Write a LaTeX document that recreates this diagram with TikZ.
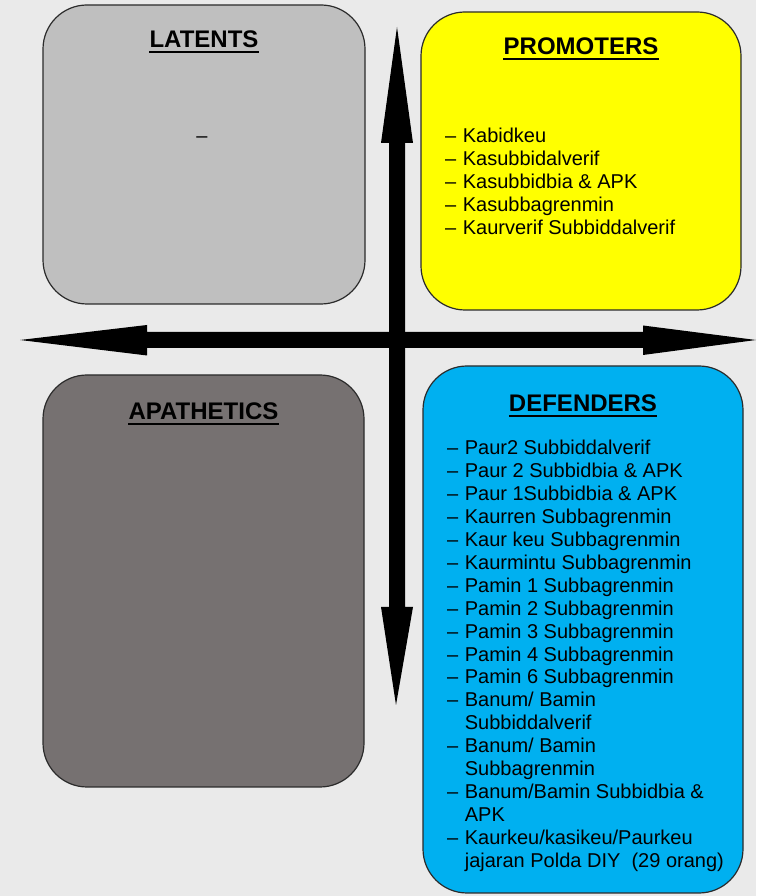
\documentclass[tikz,border=0pt]{standalone}
\usepackage{fontspec}
\setmainfont{Liberation Sans}
\definecolor{bgc}{HTML}{EAEAEA}
\definecolor{latc}{HTML}{BFBFBF}
\definecolor{proc}{HTML}{FFFF00}
\definecolor{apac}{HTML}{767171}
\definecolor{defc}{HTML}{00B0F0}
\definecolor{edgec}{HTML}{2B2B2B}
\begin{document}
\begin{tikzpicture}[x=1pt,y=1pt]
\tikzset{
  quad/.style={draw=edgec, line width=1.2pt, rounded corners=44pt, inner sep=0pt},
  ttl/.style={font=\fontsize{24}{28}\selectfont\bfseries, inner sep=0pt, anchor=base},
  uline/.style={line width=2pt},
  lst/.style={font=\fontsize{20}{22.9}\selectfont, inner sep=0pt, anchor=base west},
  arr/.style={fill=black, draw=none}
}
% background
\fill[bgc] (0,0) rectangle (756,896);
\useasboundingbox (0,0) rectangle (756,896);

% quadrant boxes
\node[quad, fill=latc, minimum width=322pt, minimum height=299pt] (lat) at (204,741.5) {};
\node[quad, fill=proc, minimum width=320pt, minimum height=298pt] (pro) at (581,735) {};
\node[quad, fill=apac, minimum width=321pt, minimum height=412pt] (apa) at (203.5,315) {};
\node[quad, fill=defc, minimum width=320pt, minimum height=527pt] (def) at (583,266.5) {};

% titles
\node[ttl] (tlat) at (204,848) {LATENTS};
\node[ttl] (tpro) at (581,841) {PROMOTERS};
\node[ttl] (tapa) at (203.5,476) {APATHETICS};
\node[ttl] (tdef) at (583,484) {DEFENDERS};
\foreach \t in {tlat,tpro,tapa,tdef}
  \draw[uline] ([yshift=-4pt]\t.base west) -- ([yshift=-4pt]\t.base east);

% contents
\node[lst, anchor=base] (llat) at (202,753) {–};

\node[lst] (lpro) at (445,753) {\begin{tabular}[t]{@{}l@{\hspace{6.5pt}}l@{}}
– & Kabidkeu\\
– & Kasubbidalverif\\
– & Kasubbidbia \& APK\\
– & Kasubbagrenmin\\
– & Kaurverif Subbiddalverif
\end{tabular}};

\node[lst] (ldef) at (447,441) {\begin{tabular}[t]{@{}l@{\hspace{6.5pt}}l@{}}
– & Paur2 Subbiddalverif\\
– & Paur 2 Subbidbia \& APK\\
– & Paur 1Subbidbia \& APK\\
– & Kaurren Subbagrenmin\\
– & Kaur keu Subbagrenmin\\
– & Kaurmintu Subbagrenmin\\
– & Pamin 1 Subbagrenmin\\
– & Pamin 2 Subbagrenmin\\
– & Pamin 3 Subbagrenmin\\
– & Pamin 4 Subbagrenmin\\
– & Pamin 6 Subbagrenmin\\
– & Banum/ Bamin\\
  & Subbiddalverif\\
– & Banum/ Bamin\\
  & Subbagrenmin\\
– & Banum/Bamin Subbidbia \&\\
  & APK\\
– & Kaurkeu/kasikeu/Paurkeu\\
  & jajaran Polda DIY~ (29 orang)
\end{tabular}};

% horizontal double arrow
\fill[arr] (20,556) -- (147,571) -- (147,564) -- (643,564) -- (643,570.5)
  -- (756,556) -- (643,541) -- (643,548) -- (147,548) -- (147,540.5) -- cycle;
% vertical double arrow
\fill[arr] (397,869) -- (413,753) -- (405,753) -- (405,289) -- (413,289)
  -- (396,191) -- (381,289) -- (389,289) -- (389,753) -- (381,753) -- cycle;
\end{tikzpicture}
\end{document}
